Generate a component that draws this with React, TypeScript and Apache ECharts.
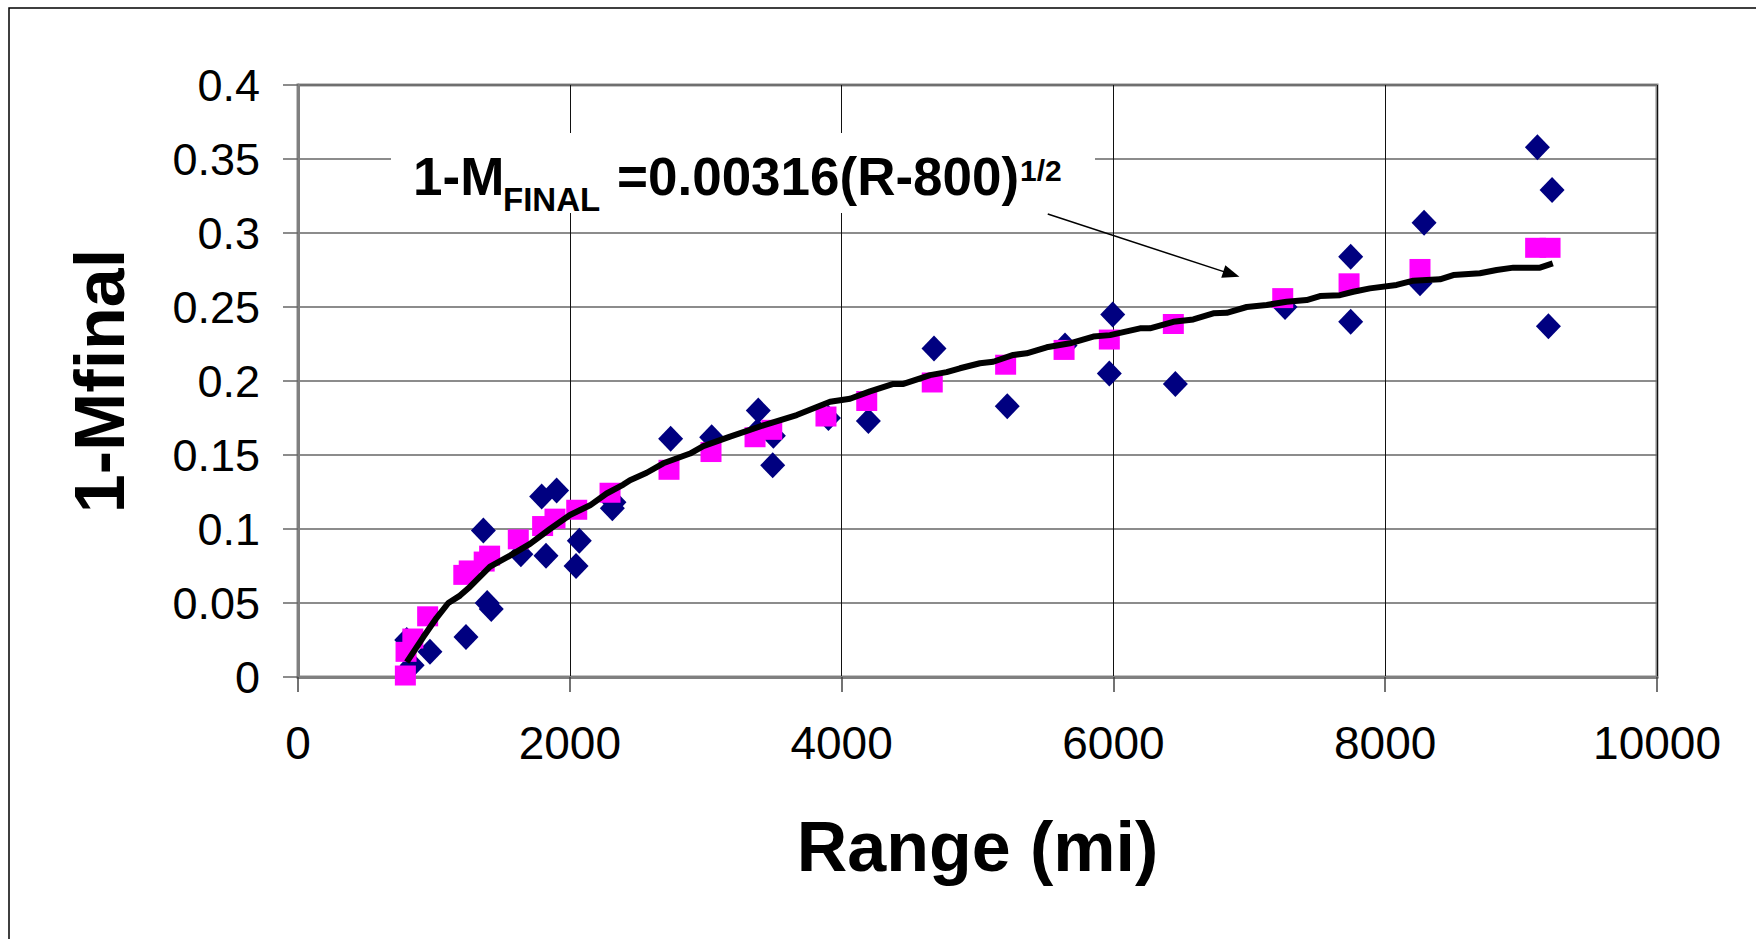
import React, { useEffect, useRef } from "react";
import * as echarts from "echarts";

const FONT = "'Liberation Sans', Arial, Helvetica, sans-serif";

// Observed data (navy diamonds)
const observedRange = [
  800, 840, 971, 1236, 1364, 1392, 1422, 1640, 1793, 1825, 1903, 2046, 2070,
  2313, 2325, 2742, 3044, 3380, 3387, 3493, 3498, 3903, 4197, 4680, 5219,
  5644, 5970, 5995, 6456, 7263, 7746, 7746, 8256, 8286, 9120, 9201, 9228,
];
const observedValue = [
  0.025, 0.008, 0.017, 0.027, 0.099, 0.05, 0.046, 0.083, 0.122, 0.082, 0.126,
  0.075, 0.092, 0.114, 0.118, 0.161, 0.162, 0.166, 0.18, 0.143, 0.163, 0.175,
  0.173, 0.222, 0.183, 0.224, 0.205, 0.245, 0.198, 0.25, 0.284, 0.24, 0.266,
  0.307, 0.358, 0.237, 0.329,
];

// Model values at the data ranges (magenta squares)
const modelRange = [
  790, 795, 845, 954, 1220, 1260, 1370, 1410, 1621, 1800, 1891, 2051, 2296,
  2730, 3039, 3363, 3486, 3885, 4185, 4667, 5207, 5637, 5970, 6441, 7246,
  7734, 8256, 9107, 9213,
];
const modelValue = [
  0.001, 0.017, 0.026, 0.041, 0.069, 0.072, 0.078, 0.082, 0.093, 0.102, 0.107,
  0.113, 0.1245, 0.14, 0.152, 0.162, 0.167, 0.176, 0.1865, 0.199, 0.211, 0.221,
  0.228, 0.2385, 0.256, 0.266, 0.2757, 0.29, 0.29,
];

// Black curve
const curveRange = [
  800, 922, 1020, 1106, 1192, 1266, 1413, 1560, 1707, 1854, 2001, 2149, 2271,
  2394, 2443, 2566, 2688, 2885, 2982, 3179, 3424, 3670, 3915, 4062, 4209, 4381,
  4455, 4651, 4773, 4871, 5018, 5116, 5263, 5362, 5509, 5681, 5852, 5975, 6196,
  6269, 6441, 6588, 6735, 6834, 6981, 7128, 7275, 7422, 7520, 7667, 7765, 7888,
  8084, 8207, 8403, 8501, 8697, 8820, 8943, 9139, 9233,
];
const curveValue = [
  0.01, 0.027, 0.04, 0.05, 0.055, 0.061, 0.0745, 0.082, 0.09, 0.1, 0.1095,
  0.116, 0.124, 0.13, 0.133, 0.138, 0.1444, 0.151, 0.156, 0.1624, 0.17, 0.177,
  0.186, 0.188, 0.193, 0.198, 0.198, 0.204, 0.206, 0.2086, 0.212, 0.213,
  0.2176, 0.2187, 0.2228, 0.2255, 0.23, 0.231, 0.2356, 0.2356, 0.24, 0.2416,
  0.2457, 0.2461, 0.25, 0.2514, 0.2536, 0.2547, 0.2574, 0.258, 0.2603, 0.2626,
  0.2649, 0.2678, 0.2687, 0.2716, 0.2728, 0.275, 0.2766, 0.2766, 0.2795,
];

// Annotation arrow (data coordinates)
const arrowStart = [5517, 0.3128];
const arrowEnd = [6868, 0.2722];

const pairs = (xs: number[], ys: number[]) => xs.map((x, i) => [x, ys[i]]);

export default function App() {
  const ref = useRef<HTMLDivElement>(null);

  useEffect(() => {
    if (!ref.current) return;
    const chart = echarts.init(ref.current, null, { renderer: "svg" });
    chart.setOption({
      animation: false,
      backgroundColor: "#ffffff",
      textStyle: { fontFamily: FONT },
      grid: {
        left: 298,
        right: 99,
        top: 85,
        bottom: 262,
        show: true,
        borderColor: "#8a8a8a",
        borderWidth: 3,
        backgroundColor: "transparent",
      },
      xAxis: {
        type: "value",
        min: 0,
        max: 10000,
        interval: 2000,
        name: "Range (mi)",
        nameLocation: "middle",
        nameGap: 135,
        nameTextStyle: {
          fontSize: 70,
          fontWeight: "bold",
          color: "#000",
          fontFamily: FONT,
        },
        axisLine: {
          show: true,
          onZero: false,
          lineStyle: { color: "#808080", width: 3 },
        },
        axisTick: {
          show: true,
          inside: false,
          length: 15,
          lineStyle: { color: "#444", width: 1.5 },
        },
        axisLabel: {
          fontSize: 46,
          color: "#000",
          margin: 43,
          fontFamily: FONT,
          formatter: (v: number) => String(Math.round(v)),
        },
        splitLine: { show: true, lineStyle: { color: "#111", width: 1 } },
      },
      yAxis: {
        type: "value",
        min: 0,
        max: 0.4,
        interval: 0.05,
        name: "1-Mfinal",
        nameLocation: "middle",
        nameGap: 163,
        nameRotate: 90,
        nameTextStyle: {
          fontSize: 70,
          fontWeight: "bold",
          color: "#000",
          fontFamily: FONT,
        },
        axisLine: {
          show: true,
          onZero: false,
          lineStyle: { color: "#808080", width: 3 },
        },
        axisTick: {
          show: true,
          inside: false,
          length: 15,
          lineStyle: { color: "#666", width: 1.5 },
        },
        axisLabel: {
          fontSize: 45,
          color: "#000",
          margin: 38,
          fontFamily: FONT,
          formatter: (v: number) => String(parseFloat(v.toFixed(2))),
        },
        splitLine: { show: true, lineStyle: { color: "#666", width: 1.5 } },
      },
      graphic: [
        {
          type: "rect",
          z: 1,
          shape: { x: 9, y: 8, width: 1800, height: 1000 },
          style: { fill: "none", stroke: "#000", lineWidth: 1.5 },
          silent: true,
        },
        {
          type: "rect",
          z: 10,
          shape: { x: 391, y: 133, width: 704, height: 80 },
          style: { fill: "#fff", stroke: "none" },
          silent: true,
        },
        {
          type: "text",
          z: 11,
          x: 413,
          y: 176,
          style: {
            text: "1-M",
            font: `bold 53px ${FONT}`,
            fill: "#000",
            verticalAlign: "middle",
          },
        },
        {
          type: "text",
          z: 11,
          x: 503,
          y: 199,
          style: {
            text: "FINAL",
            font: `bold 33px ${FONT}`,
            fill: "#000",
            verticalAlign: "middle",
          },
        },
        {
          type: "text",
          z: 11,
          x: 617,
          y: 176,
          style: {
            text: "=0.00316(R-800)",
            font: `bold 53px ${FONT}`,
            fill: "#000",
            verticalAlign: "middle",
          },
        },
        {
          type: "text",
          z: 11,
          x: 1020,
          y: 170,
          style: {
            text: "1/2",
            font: `bold 30px ${FONT}`,
            fill: "#000",
            verticalAlign: "middle",
          },
        },
      ],
      series: [
        {
          type: "scatter",
          name: "Observed",
          symbol: "diamond",
          symbolSize: [25, 26],
          itemStyle: { color: "#000080", opacity: 1 },
          data: pairs(observedRange, observedValue),
        },
        {
          type: "scatter",
          name: "Model",
          symbol: "rect",
          symbolSize: [21, 20],
          itemStyle: { color: "#FF00FF", opacity: 1 },
          data: pairs(modelRange, modelValue),
        },
        {
          type: "line",
          name: "Curve",
          symbol: "none",
          lineStyle: { color: "#000", width: 6, opacity: 1 },
          data: pairs(curveRange, curveValue),
          markLine: {
            silent: true,
            symbol: ["none", "triangle"],
            symbolSize: [13, 17],
            label: { show: false },
            lineStyle: { color: "#000", width: 1.5, type: "solid", opacity: 1 },
            itemStyle: { color: "#000" },
            data: [[{ coord: arrowStart }, { coord: arrowEnd }]],
          },
        },
      ],
    });
    return () => chart.dispose();
  }, []);

  return (
    <div
      ref={ref}
      style={{
        position: "fixed",
        left: 0,
        top: 0,
        width: 1756,
        height: 939,
        background: "#fff",
      }}
    />
  );
}
